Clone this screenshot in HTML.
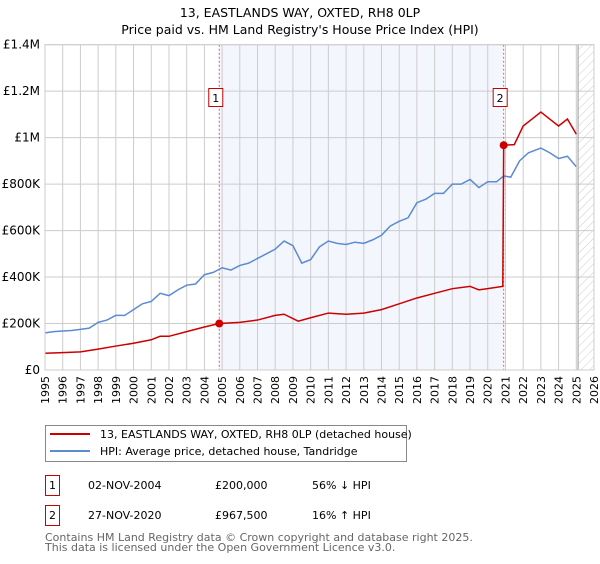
<!DOCTYPE html>
<html><head><meta charset="utf-8"><style>
body{margin:0;background:#fff;font-family:"DejaVu Sans","Liberation Sans",sans-serif;}
svg text{font-family:"DejaVu Sans","Liberation Sans",sans-serif;}
</style></head><body>
<svg id="chart" width="600" height="560" xmlns="http://www.w3.org/2000/svg">
<defs><pattern id="hatch" patternUnits="userSpaceOnUse" width="6" height="6" patternTransform="rotate(45)"><line x1="0" y1="0" x2="0" y2="6" stroke="#ccc" stroke-width="1"/></pattern></defs>
<text x="300" y="17" text-anchor="middle" font-size="12.5">13, EASTLANDS WAY, OXTED, RH8 0LP</text>
<text x="300" y="34" text-anchor="middle" font-size="12.5">Price paid vs. HM Land Registry's House Price Index (HPI)</text>
<g id="plot"></g>
<g>
<rect x="45.5" y="425.5" width="361" height="36" fill="#fff" stroke="#888"/>
<line x1="50" y1="434" x2="90" y2="434" stroke="#cc0000" stroke-width="2"/>
<text x="100" y="438" font-size="11">13, EASTLANDS WAY, OXTED, RH8 0LP (detached house)</text>
<line x1="50" y1="451" x2="90" y2="451" stroke="#5b8bd0" stroke-width="2"/>
<text x="100" y="455" font-size="11">HPI: Average price, detached house, Tandridge</text>
</g>
<g font-size="11">
<rect x="45.5" y="475.5" width="14" height="20" fill="#fff" stroke="#cc0000"/>
<text x="52.5" y="489" text-anchor="middle">1</text>
<text x="88" y="489">02-NOV-2004</text><text x="215" y="489">£200,000</text><text x="312" y="489">56% ↓ HPI</text>
<rect x="45.5" y="505.5" width="14" height="20" fill="#fff" stroke="#cc0000"/>
<text x="52.5" y="519" text-anchor="middle">2</text>
<text x="88" y="519">27-NOV-2020</text><text x="215" y="519">£967,500</text><text x="312" y="519">16% ↑ HPI</text>
</g>
<text x="45" y="541" font-size="11" fill="#666">Contains HM Land Registry data © Crown copyright and database right 2025.</text>
<text x="45" y="551" font-size="11" fill="#666">This data is licensed under the Open Government Licence v3.0.</text>
</svg>
<script>
const hpiYears=[1995,1995.5,1996,1996.5,1997,1997.5,1998,1998.5,1999,1999.5,2000,2000.5,2001,2001.5,2002,2002.5,2003,2003.5,2004,2004.5,2005,2005.5,2006,2006.5,2007,2007.5,2008,2008.5,2009,2009.5,2010,2010.5,2011,2011.5,2012,2012.5,2013,2013.5,2014,2014.5,2015,2015.5,2016,2016.5,2017,2017.5,2018,2018.5,2019,2019.5,2020,2020.5,2020.9,2021.3,2021.8,2022.3,2023,2023.5,2024,2024.5,2025];
const hpiValues=[160,165,168,170,175,180,205,215,235,235,260,285,295,330,320,345,365,370,410,420,440,430,450,460,480,500,520,555,535,460,475,530,555,545,540,550,545,560,580,620,640,655,720,735,760,760,800,800,820,785,810,810,835,830,900,935,955,935,910,920,875];
const redYears=[1995,1996,1997,1998,1999,2000,2001,2001.5,2002,2003,2004,2004.84,2006,2007,2008,2008.5,2009.3,2010,2011,2012,2013,2014,2015,2016,2017,2018,2019,2019.5,2020,2020.85,2020.9,2021.5,2022,2022.5,2023,2023.5,2024,2024.5,2025];
const redValues=[72,75,78,90,103,115,130,145,145,165,185,200,205,215,235,240,210,225,245,240,245,260,285,310,330,350,360,345,350,360,967.5,970,1050,1080,1110,1080,1050,1080,1015];
const saleYears=[2004.84,2020.9];
const saleValues=[200,967.5];
const saleLabels=["1","2"];
const yTicks=[0,200,400,600,800,1000,1200,1400];
const yTickLabels=["£0","£200K","£400K","£600K","£800K","£1M","£1.2M","£1.4M"];
const xTicks=[1995,1996,1997,1998,1999,2000,2001,2002,2003,2004,2005,2006,2007,2008,2009,2010,2011,2012,2013,2014,2015,2016,2017,2018,2019,2020,2021,2022,2023,2024,2025,2026];

const X0=45,X1=594,Y0=370,Y1=44.7;
const xs=y=>X0+(y-1995)/(2026-1995)*(X1-X0);
const ys=v=>Y0-v/1400*(Y0-Y1);
const NS="http://www.w3.org/2000/svg";
const g=document.getElementById('plot');
function mk(t,a){const e=document.createElementNS(NS,t);for(const k in a)e.setAttribute(k,a[k]);g.appendChild(e);return e;}
let e;
e=mk('rect',{x:xs(saleYears[0]),y:Y1,width:xs(saleYears[1])-xs(saleYears[0]),height:Y0-Y1,fill:'#f3f6fd'});


e=mk('rect',{x:xs(2025.1),y:Y1,width:X1-xs(2025.1),height:Y0-Y1,fill:'url(#hatch)'});


xTicks.forEach((t,i)=>{
 e=mk('line',{x1:xs(t),x2:xs(t),y1:Y1,y2:Y0,stroke:'#ccc','stroke-width':1});
 
 
 e=mk('text',{x:0,y:0,'font-size':11,'text-anchor':'end',transform:`translate(${xs(t)+4},${Y0+6}) rotate(-90)`});
 e.textContent=t;
 
 
});
yTicks.forEach((t,i)=>{
 e=mk('line',{x1:X0,x2:X1,y1:ys(t),y2:ys(t),stroke:'#ccc','stroke-width':1});
 
 
 e=mk('text',{x:40,y:ys(t)+4,'font-size':12,'text-anchor':'end'});
 e.textContent=yTickLabels[i];
 
 
});
e=mk('line',{x1:xs(2025.1),x2:xs(2025.1),y1:Y1,y2:Y0,stroke:'#999','stroke-width':1});


saleYears.forEach((s,i)=>{
 e=mk('line',{x1:xs(s),x2:xs(s),y1:Y1,y2:Y0,stroke:'#e06060','stroke-width':1,'stroke-dasharray':'2,2'});
 
 
});
e=mk('polyline',{points:hpiYears.map((y,i)=>xs(y)+','+ys(hpiValues[i])).join(' '),fill:'none',stroke:'#5b8bd0','stroke-width':1.5});


e=mk('polyline',{points:redYears.map((y,i)=>xs(y)+','+ys(redValues[i])).join(' '),fill:'none',stroke:'#cc0000','stroke-width':1.5});


saleYears.forEach((s,i)=>{
 e=mk('circle',{cx:xs(s),cy:ys(saleValues[i]),r:4,fill:'#cc0000'});
 
 
 e=mk('rect',{x:xs(s)-10.5,y:88.5,width:14,height:18,fill:'#fff',stroke:'#cc0000'});
 
 
 e=mk('text',{x:xs(s)-3.5,y:102,'font-size':11,'text-anchor':'middle'});
 e.textContent=saleLabels[i];
 
 
});
e=mk('rect',{x:X0,y:Y1,width:X1-X0,height:Y0-Y1,fill:'none',stroke:'#ccc'});


</script>
</body></html>
